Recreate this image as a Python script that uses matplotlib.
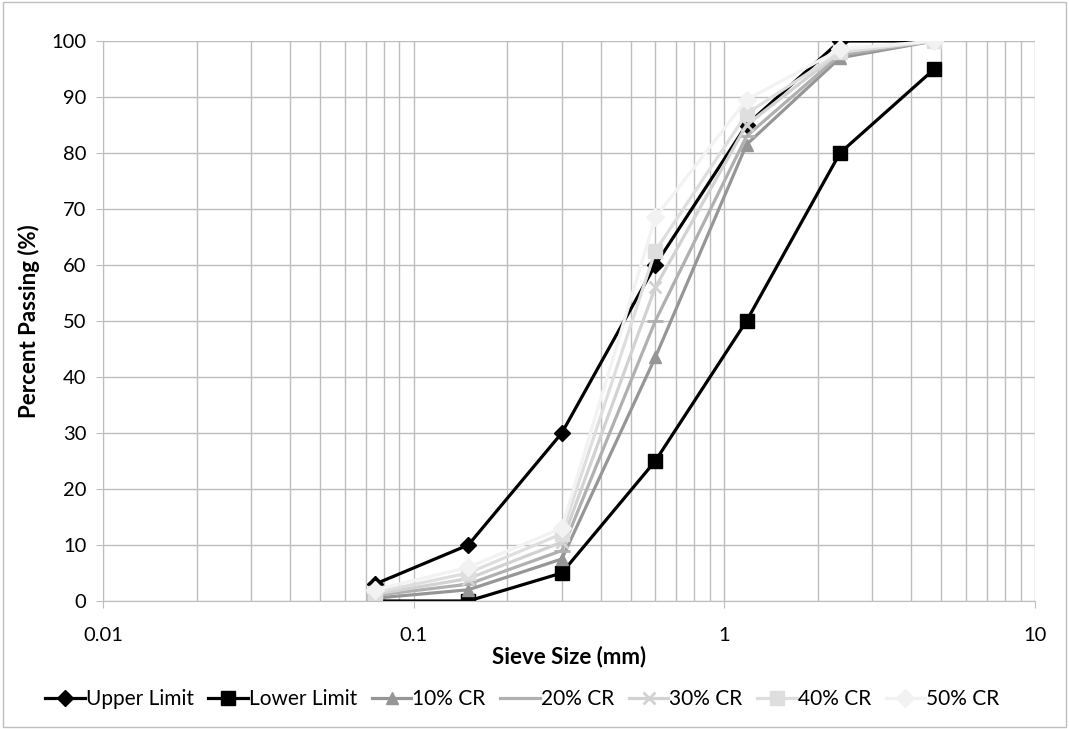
import matplotlib
matplotlib.use("Agg")
import matplotlib.pyplot as plt
from matplotlib.patches import Rectangle

plt.rcParams['font.family'] = ['Lato', 'DejaVu Sans']

# sieve sizes (mm)
sieve = [0.075, 0.15, 0.3, 0.6, 1.18, 2.36, 4.75]

upper = [3, 10, 30, 60, 85, 100, 100]
lower = [0, 0, 5, 25, 50, 80, 95]
cr10 = [0.5, 2, 7.5, 43.5, 81.5, 97, 100]
cr20 = [1, 3, 9, 50, 83, 97.5, 100]
cr30 = [1.2, 4, 10.5, 56, 85, 98, 100]
cr40 = [1.5, 5, 12, 62.5, 87, 98, 100]
cr50 = [2, 6, 13, 68.5, 89.5, 98.5, 100]

series = [
    ("Upper Limit", upper, "#000000", "D", 8),
    ("Lower Limit", lower, "#000000", "s", 10),
    ("10% CR", cr10, "#969696", "^", 9),
    ("20% CR", cr20, "#b0b0b0", "_", 12),
    ("30% CR", cr30, "#d2d2d2", "x", 9),
    ("40% CR", cr40, "#dedede", "s", 10),
    ("50% CR", cr50, "#f2f2f2", "D", 9),
]

fig = plt.figure(figsize=(10.69, 7.29), dpi=100)
fig.patches.append(Rectangle((0.003, 0.003), 0.994, 0.994, transform=fig.transFigure,
                             fill=False, edgecolor="#bfbfbf", linewidth=1))
ax = fig.add_axes([0.0964, 0.1756, 0.8716, 0.7682])

for name, vals, col, mk, ms in series:
    kw = dict(markeredgewidth=2) if mk in ("x", "_") else dict(markeredgecolor=col)
    ax.plot(sieve, vals, color=col, linewidth=2.3, marker=mk, markersize=ms,
            markerfacecolor=col, label=name, **kw)

ax.set_xscale("log")
ax.set_xlim(0.01, 10)
ax.set_ylim(0, 100)
ax.set_yticks(range(0, 101, 10))
ax.set_xticks([0.01, 0.1, 1, 10])
ax.set_xticklabels(["0.01", "0.1", "1", "10"])
ax.grid(True, which="both", axis="x", color="#bdbdbd", linewidth=1)
ax.grid(True, which="major", axis="y", color="#bdbdbd", linewidth=1)
ax.set_axisbelow(True)
for s in ["top", "right"]:
    ax.spines[s].set_visible(False)
for s in ["left", "bottom"]:
    ax.spines[s].set_color("#bdbdbd")
ax.tick_params(which="major", length=5, color="#bdbdbd", labelsize=14.5)
ax.tick_params(axis="y", pad=7)
ax.tick_params(axis="x", pad=14)
ax.tick_params(which="minor", length=0)
ax.set_xlabel("Sieve Size (mm)", fontsize=16, fontweight="bold", labelpad=1)
ax.set_ylabel("Percent Passing (%)", fontsize=16, fontweight="bold", labelpad=8)

ax.legend(loc="center", bbox_to_anchor=(0.45, -0.175), ncol=7, frameon=False,
          fontsize=15, handlelength=1.9, handletextpad=0.05, columnspacing=0.7)

fig.savefig("out.png", dpi=100)
